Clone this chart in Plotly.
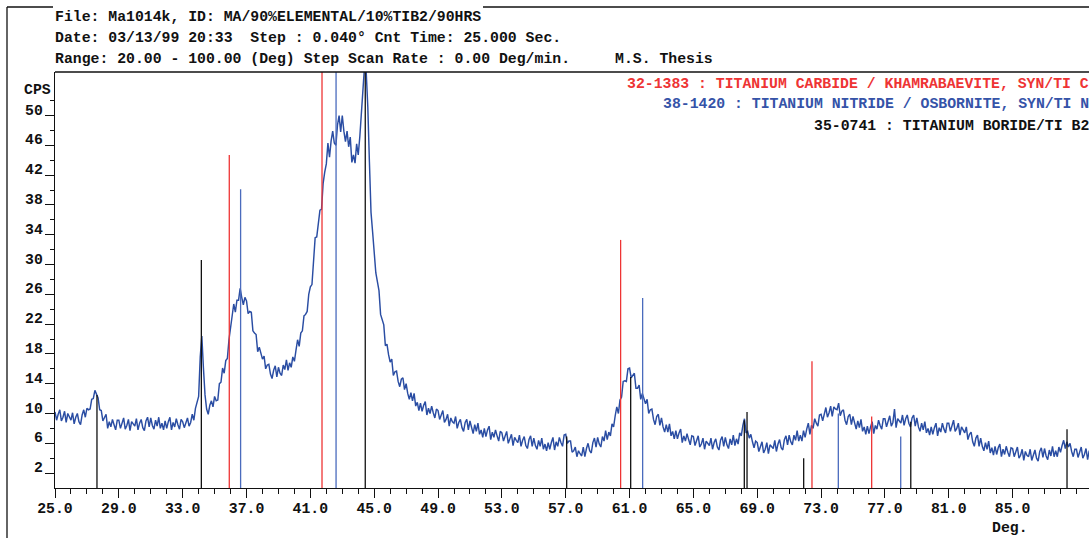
import plotly.graph_objects as go

# ---- measured scan: counts per second on a 0.1 deg 2-theta grid starting at 25.0 ----
scan_start = 25.0
scan_step = 0.1
cps = [
    10.2, 9.1, 9.9, 10.5, 9.0, 9.5, 10.3, 8.8, 10.0, 9.6,        # 25
    9.1, 10.1, 8.6, 9.5, 10.0, 8.9, 8.5, 9.8, 10.5, 9.5,         # 26
    10.7, 10.5, 10.6, 11.9, 12.0, 13.1, 12.5, 12.1, 10.5, 10.4,  # 27
    9.0, 9.5, 9.9, 8.0, 8.9, 8.2, 9.2, 8.5, 7.8, 9.1,            # 28
    9.1, 8.0, 8.8, 9.4, 7.9, 8.4, 9.2, 7.7, 8.9, 8.5,            # 29
    8.3, 9.3, 7.8, 8.7, 9.2, 8.1, 7.7, 9.0, 9.5, 8.2,            # 30
    9.4, 8.4, 7.9, 9.1, 8.3, 9.5, 8.0, 8.7, 7.8, 9.0,            # 31
    8.0, 8.9, 9.5, 7.8, 8.8, 8.2, 9.3, 8.5, 7.9, 9.2,            # 32
    8.9, 8.1, 8.9, 9.4, 8.3, 8.8, 9.9, 9.1, 10.7, 11.4,          # 33
    12.3, 17.6, 20.4, 16.1, 12.5, 10.6, 9.9, 11.1, 11.7, 10.9,   # 34
    12.3, 11.7, 11.8, 14.0, 14.2, 16.1, 15.4, 17.1, 17.4, 19.9,  # 35
    21.7, 23.3, 24.7, 23.6, 25.2, 25.2, 26.8, 25.6, 24.6, 25.6,  # 36
    25.1, 23.4, 23.7, 23.6, 21.1, 20.8, 20.6, 18.3, 18.9, 18.1,  # 37
    17.3, 17.7, 16.0, 16.5, 16.6, 15.3, 14.7, 15.8, 16.4, 14.9,  # 38
    16.2, 15.4, 15.1, 16.5, 15.9, 17.2, 15.8, 16.8, 16.2, 17.6,  # 39
    17.0, 18.5, 19.9, 19.0, 20.8, 21.1, 23.1, 23.3, 23.7, 26.0,  # 40
    27.0, 27.3, 30.7, 33.6, 33.7, 35.6, 37.3, 37.4, 40.9, 42.4,  # 41
    43.5, 46.3, 44.4, 46.6, 47.9, 46.3, 46.0, 48.7, 50.0, 47.8,  # 42
    50.0, 47.9, 46.5, 47.9, 45.8, 47.1, 43.7, 44.7, 43.6, 46.2,  # 43
    44.7, 47.2, 50.9, 53.6, 56.8, 55.8, 51.1, 43.8, 37.0, 34.4,  # 44
    32.0, 28.9, 27.7, 26.5, 23.3, 22.4, 21.9, 19.1, 19.3, 17.9,  # 45
    16.9, 17.3, 15.1, 15.6, 15.7, 14.3, 13.6, 14.6, 14.8, 13.2,  # 46
    14.0, 12.7, 11.9, 12.8, 11.7, 12.7, 11.0, 11.5, 10.4, 11.4,  # 47
    10.3, 11.1, 11.6, 9.8, 10.7, 10.0, 11.0, 10.1, 9.4, 10.6,    # 48
    10.4, 9.2, 9.9, 10.4, 8.8, 9.2, 9.9, 8.3, 9.4, 8.9,          # 49
    8.7, 9.6, 8.0, 8.8, 9.2, 8.1, 7.6, 8.8, 9.2, 7.8,            # 50
    9.0, 7.9, 7.3, 8.5, 7.6, 8.7, 7.2, 7.8, 6.8, 8.0,            # 51
    6.9, 7.8, 8.3, 6.5, 7.5, 6.8, 7.8, 7.0, 6.3, 7.6,            # 52
    7.4, 6.3, 7.0, 7.6, 6.0, 6.5, 7.2, 5.7, 6.8, 6.4,            # 53
    6.1, 7.1, 5.6, 6.4, 6.9, 5.7, 5.3, 6.5, 7.0, 5.6,            # 54
    6.7, 5.7, 5.2, 6.4, 5.6, 6.7, 5.2, 5.9, 5.0, 6.1,            # 55
    5.2, 6.1, 6.8, 5.1, 6.2, 5.6, 6.8, 6.1, 5.6, 7.1,            # 56
    7.2, 6.0, 6.3, 6.3, 4.8, 5.0, 5.5, 4.2, 5.0, 4.6,            # 57
    4.3, 5.5, 4.2, 5.3, 6.0, 5.0, 4.7, 6.1, 6.7, 5.5,            # 58
    6.8, 5.9, 5.5, 6.9, 6.3, 7.7, 6.5, 7.5, 7.0, 8.6,            # 59
    8.2, 9.7, 10.9, 10.0, 11.8, 12.2, 14.3, 14.4, 14.3, 16.0,    # 60
    16.1, 14.8, 15.2, 15.4, 13.4, 13.4, 13.8, 11.9, 12.7, 11.9,  # 61
    11.3, 11.9, 10.0, 10.5, 10.6, 9.2, 8.5, 9.6, 9.9, 8.4,       # 62
    9.4, 8.2, 7.5, 8.5, 7.5, 8.6, 7.0, 7.6, 6.6, 7.7,            # 63
    6.6, 7.4, 7.9, 6.1, 7.0, 6.3, 7.3, 6.5, 5.8, 7.0,            # 64
    6.9, 5.7, 6.5, 7.0, 5.5, 5.9, 6.7, 5.2, 6.3, 5.9,            # 65
    5.7, 6.7, 5.2, 6.1, 6.6, 5.5, 5.1, 6.4, 6.9, 5.6,            # 66
    6.8, 5.8, 5.3, 6.6, 5.8, 7.1, 5.7, 6.6, 5.9, 7.4,            # 67
    7.0, 8.4, 9.3, 7.4, 7.6, 6.7, 7.2, 6.2, 5.4, 6.3,            # 68
    6.1, 4.9, 5.6, 6.2, 4.7, 5.2, 6.1, 4.6, 5.8, 5.5,            # 69
    5.3, 6.4, 4.9, 5.9, 6.5, 5.4, 5.1, 6.5, 7.0, 5.8,            # 70
    7.1, 6.2, 5.8, 7.1, 6.4, 7.7, 6.3, 7.1, 6.3, 7.7,            # 71
    6.8, 7.9, 8.7, 7.2, 8.4, 8.0, 9.3, 8.7, 8.3, 9.8,            # 72
    9.9, 9.0, 10.0, 10.8, 9.5, 10.1, 11.0, 9.6, 10.9, 10.6,      # 73
    10.5, 11.4, 9.7, 10.3, 10.5, 9.1, 8.5, 9.6, 9.9, 8.5,        # 74
    9.6, 8.5, 7.9, 9.0, 8.1, 9.2, 7.6, 8.2, 7.2, 8.3,            # 75
    7.3, 8.2, 8.9, 7.3, 8.4, 7.9, 9.1, 8.4, 7.9, 9.3,            # 76
    9.3, 8.2, 9.1, 9.7, 8.3, 8.8, 10.6, 8.1, 9.3, 8.9,           # 77
    8.7, 9.8, 8.4, 9.3, 9.8, 8.7, 8.2, 9.4, 9.8, 8.3,            # 78
    9.4, 8.2, 7.6, 8.7, 7.8, 8.9, 7.4, 8.0, 7.1, 8.2,            # 79
    7.2, 8.1, 8.7, 7.0, 8.1, 7.5, 8.7, 7.9, 7.4, 8.7,            # 80
    8.7, 7.6, 8.5, 9.1, 7.6, 8.0, 8.7, 7.1, 8.2, 7.7,            # 81
    7.4, 8.2, 6.5, 7.2, 7.5, 6.2, 5.6, 6.7, 7.1, 5.6,            # 82
    6.7, 5.6, 5.0, 6.1, 5.2, 6.3, 4.7, 5.4, 4.4, 5.6,            # 83
    4.5, 5.4, 5.9, 4.2, 5.2, 4.5, 5.6, 4.8, 4.2, 5.4,            # 84
    5.3, 4.2, 4.9, 5.5, 4.0, 4.4, 5.2, 3.7, 4.9, 4.4,            # 85
    4.2, 5.2, 3.7, 4.6, 5.1, 4.0, 3.6, 4.9, 5.4, 4.1,            # 86
    5.3, 4.3, 3.8, 5.1, 4.3, 5.6, 4.2, 5.0, 4.2, 5.5,            # 87
    4.8, 5.7, 6.4, 5.3, 6.2, 5.5, 6.0, 4.9, 4.2, 5.2,            # 88
    5.2, 4.1, 4.9, 5.5, 4.0, 4.5, 5.3, 3.8, 5.0, 4.6,            # 89
    4.8,                                                         # 90
]

# ---- reference patterns (2-theta, relative intensity) ----
tic_pos = [35.92, 41.73, 60.44, 72.43, 76.17]
tic_int = [44.7, 100.0, 33.3, 17.0, 9.6]
tin_pos = [36.63, 42.61, 61.82, 74.08, 77.99]
tin_int = [40.1, 100.0, 25.5, 10.0, 6.9]
tib2_pos = [27.63, 34.17, 44.44, 57.06, 61.07, 68.19, 68.36, 71.91, 78.62, 88.41]
tib2_int = [12.5, 30.6, 100.0, 6.9, 14.9, 9.1, 10.2, 4.0, 8.9, 7.9]

# ---- axis ticks ----
x_major = [25, 29, 33, 37, 41, 45, 49, 53, 57, 61, 65, 69, 73, 77, 81, 85]
x_labels = ["25.0", "29.0", "33.0", "37.0", "41.0", "45.0", "49.0", "53.0",
            "57.0", "61.0", "65.0", "69.0", "73.0", "77.0", "81.0", "85.0"]
y_major = [2, 6, 10, 14, 18, 22, 26, 30, 34, 38, 42, 46, 50]
y_minor = [4, 8, 12, 16, 20, 24, 28, 32, 36, 40, 44, 48, 52]

header_lines = [
    "File: Ma1014k, ID: MA/90%ELEMENTAL/10%TIB2/90HRS",
    "Date: 03/13/99 20:33  Step : 0.040° Cnt Time: 25.000 Sec.",
    "Range: 20.00 - 100.00 (Deg) Step Scan Rate : 0.00 Deg/min.",
]
thesis_note = "M.S. Thesis"
card_labels = [
    "32-1383 : TITANIUM CARBIDE / KHAMRABAEVITE, SYN/TI C",
    "38-1420 : TITANIUM NITRIDE / OSBORNITE, SYN/TI N",
    "35-0741 : TITANIUM BORIDE/TI B2",
]

# ---- page geometry ----
W, H = 1089, 538
L, R, T, B = 55, 0, 72, 50
PX_PER_DEG = 15.96
PX_PER_CPS = 7.45
plot_w = W - L - R
plot_h = H - T - B
x_range = [25.0, 25.0 + plot_w / PX_PER_DEG]
y_range = [0.0, plot_h / PX_PER_CPS]


def fx(xp):
    return (xp - L) / plot_w


def fy(yp):
    return (H - B - yp) / plot_h


CURVE = "#2a4da3"
RED = "#ee3434"
BLUE = "#4a6bbd"
BLACK = "#111111"
FONT = "Liberation Mono"
FS = 14.8

two_theta = [round(scan_start + i * scan_step, 2) for i in range(len(cps))]


def sticks(pos, ints):
    xs, ys = [], []
    for p, h in zip(pos, ints):
        xs += [p, p, None]
        ys += [0, h, None]
    return xs, ys


fig = go.Figure()
fig.add_trace(go.Scatter(x=two_theta, y=cps, mode="lines",
                         line=dict(color=CURVE, width=1.45), showlegend=False))
for pos, ints, col in [(tib2_pos, tib2_int, BLACK), (tic_pos, tic_int, RED),
                       (tin_pos, tin_int, BLUE)]:
    sx, sy = sticks(pos, ints)
    fig.add_trace(go.Scatter(x=sx, y=sy, mode="lines",
                             line=dict(color=col, width=1.3), showlegend=False))

annotations = []
for i, txt in enumerate(header_lines):
    annotations.append(dict(text=txt, xref="paper", yref="paper",
                            x=fx(53), y=fy([16.7, 38.3, 59.3][i]),
                            xanchor="left", yanchor="middle", showarrow=False,
                            font=dict(color=BLACK)))
annotations.append(dict(text=thesis_note, xref="paper", yref="paper",
                        x=fx(613), y=fy(59.3), xanchor="left", yanchor="middle",
                        showarrow=False, font=dict(color=BLACK)))
for txt, col, yp in zip(card_labels, [RED, "#3553a8", BLACK], [84, 104.3, 126]):
    annotations.append(dict(text=txt, xref="paper", yref="paper",
                            x=fx(1091), y=fy(yp), xanchor="right", yanchor="middle",
                            showarrow=False, font=dict(color=col)))
annotations.append(dict(text="CPS", xref="paper", yref="paper", x=fx(53), y=fy(90),
                        xanchor="right", yanchor="middle", showarrow=False,
                        font=dict(color=BLACK)))
for v in y_major:
    annotations.append(dict(text=str(v), xref="paper", yref="y", x=fx(45), y=v,
                            xanchor="right", yanchor="middle", yshift=5,
                            showarrow=False, font=dict(color=BLACK)))
annotations.append(dict(text="Deg.", xref="paper", yref="paper", x=fx(1010), y=fy(528),
                        xanchor="center", yanchor="middle", showarrow=False,
                        font=dict(color=BLACK)))

shapes = [
    # plot frame top edge
    dict(type="line", xref="paper", yref="paper", x0=0, x1=1, y0=1, y1=1,
         line=dict(color=BLACK, width=1.3)),
    # outer box around the page, broken by the header text
    dict(type="line", xref="paper", yref="paper", x0=fx(7), x1=fx(7), y0=fy(7), y1=fy(540),
         line=dict(color=BLACK, width=1.3)),
    dict(type="line", xref="paper", yref="paper", x0=fx(7), x1=fx(53), y0=fy(7), y1=fy(7),
         line=dict(color=BLACK, width=1.3)),
    dict(type="line", xref="paper", yref="paper", x0=fx(483), x1=fx(1090), y0=fy(7), y1=fy(7),
         line=dict(color=BLACK, width=1.3)),
]

fig.update_layout(
    width=W, height=H,
    margin=dict(l=L, r=R, t=T, b=B, pad=0),
    paper_bgcolor="white", plot_bgcolor="white",
    font=dict(family=FONT, size=FS, color=BLACK, weight="bold"),
    showlegend=False,
    annotations=annotations,
    shapes=shapes,
    xaxis=dict(range=x_range, showgrid=False, zeroline=False,
               showline=True, linecolor=BLACK, linewidth=1.3,
               tickmode="array", tickvals=x_major, ticktext=x_labels,
               ticks="outside", ticklen=9, tickwidth=1.3, tickcolor=BLACK,
               ticklabelstandoff=-3,
               tickfont=dict(family=FONT, size=FS, color=BLACK, weight="bold"),
               minor=dict(dtick=1, tick0=25, ticks="outside", ticklen=5,
                          tickwidth=1.3, tickcolor=BLACK, showgrid=False)),
    yaxis=dict(range=y_range, showgrid=False, zeroline=False,
               showline=True, linecolor=BLACK, linewidth=1.3,
               tickmode="array", tickvals=y_major, showticklabels=False,
               ticks="outside", ticklen=9, tickwidth=1.3, tickcolor=BLACK,
               minor=dict(tickvals=y_minor, ticks="outside", ticklen=4,
                          tickwidth=1.3, tickcolor=BLACK, showgrid=False)),
)

fig.write_html("out.html")
